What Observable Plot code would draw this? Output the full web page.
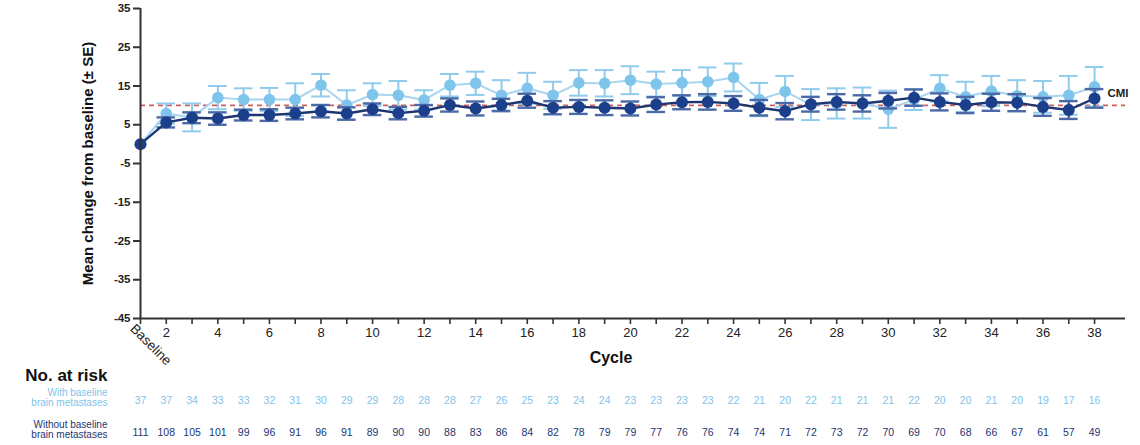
<!DOCTYPE html>
<html>
<head>
<meta charset="utf-8">
<script src="https://cdn.jsdelivr.net/npm/d3@7"></script>
<script src="https://cdn.jsdelivr.net/npm/@observablehq/plot@0.6"></script>
<style>
  html, body { margin: 0; padding: 0; background: white; overflow: hidden; }
  #chart svg { display: block; overflow: visible; }
</style>
</head>
<body>
<div id="chart"></div>
<script>
// ---- data ----
const cycles = [1,2,3,4,5,6,7,8,9,10,11,12,13,14,15,16,17,18,19,20,21,22,23,24,25,26,27,28,29,30,31,32,33,34,35,36,37,38];
const evenTickLabels = [2,4,6,8,10,12,14,16,18,20,22,24,26,28,30,32,34,36,38];
const baselineLabel = "Baseline";
const yTicks = [-45,-35,-25,-15,-5,5,15,25,35];
const cmiValue = 10;

const withMean = [0,7.9,6.9,12.0,11.5,11.5,11.5,15.2,10.1,12.8,12.6,11.4,15.2,15.7,12.6,14.4,12.6,15.8,15.7,16.5,15.5,15.8,16.1,17.2,11.5,13.6,10.2,10.5,10.6,9.0,11.5,14.4,12.2,13.7,12.5,12.2,12.6,14.8];
const withSE   = [0,2.6,3.6,3.0,2.9,3.0,4.2,2.9,3.8,2.9,3.7,2.5,2.9,3.0,3.9,4.0,3.5,3.3,3.4,3.6,3.2,3.3,3.7,3.6,4.3,4.0,4.0,3.9,4.0,4.8,2.7,3.4,3.9,3.9,4.0,4.1,5.0,5.1];
const withoutMean = [0,5.6,6.8,6.6,7.5,7.5,7.9,8.5,7.9,9.0,8.0,8.6,10.1,9.2,10.1,11.2,9.4,9.6,9.4,9.2,10.2,10.8,10.9,10.5,9.4,8.5,10.3,10.9,10.5,11.2,12.0,10.9,10.1,10.8,10.7,9.6,8.8,11.8];
const withoutSE   = [0,1.3,1.4,1.6,1.4,1.5,1.5,1.6,1.6,1.5,1.6,1.5,1.7,1.8,1.6,1.8,1.7,1.8,1.9,1.8,1.9,1.8,2.0,1.9,2.0,2.1,1.9,2.0,2.1,2.0,2.1,2.2,2.1,2.2,2.2,2.3,2.3,2.4];

const withAtRisk    = [37,37,34,33,33,32,31,30,29,29,28,28,28,27,26,25,23,24,24,23,23,23,23,22,21,20,22,21,21,21,22,20,20,21,20,19,17,16];
const withoutAtRisk = [111,108,105,101,99,96,91,96,91,89,90,90,88,83,86,84,82,78,79,79,77,76,76,74,74,71,72,73,72,70,69,70,68,66,67,61,57,49];

const groupKeys = ["with", "without"];
const groupLabels = ["With baseline\nbrain metastases", "Without baseline\nbrain metastases"];
const atRiskTitle = "No. at risk";
const yLabel = "Mean change from baseline (± SE)";
const xLabel = "Cycle";
const cmiLabel = "CMI";

// ---- styling ----
const LIGHT = "#7fc4ea";
const LIGHT_LINE = "#a6d5f0";
const LIGHT_BAR = "#8fcbec";
const DARK = "#1b3f8b";
const DARK_LINE = "#1d3672";
const DARK_BAR = "#4a69a6";
const FONT = "'Liberation Sans', Arial, sans-serif";

// ---- tables ----
const withRows = cycles.map((c, i) => ({cycle: c, mean: withMean[i], se: withSE[i]}));
const withoutRows = cycles.map((c, i) => ({cycle: c, mean: withoutMean[i], se: withoutSE[i]}));
const withBars = withRows.filter(d => d.se > 0);
const withoutBars = withoutRows.filter(d => d.se > 0);
const capHalf = 0.36;
const atRisk = [
  ...cycles.map((c, i) => ({cycle: c, group: "with", n: withAtRisk[i]})),
  ...cycles.map((c, i) => ({cycle: c, group: "without", n: withoutAtRisk[i]}))
];
const labelRows = groupKeys.map((k, i) => ({group: k, label: groupLabels[i]}));

const xDomain = [1, 39.2];

function errorMarks(rows, color, width) {
  return [
    Plot.ruleX(rows, {x: "cycle", y1: d => d.mean - d.se, y2: d => d.mean + d.se, stroke: color, strokeWidth: width}),
    Plot.ruleY(rows, {y: d => d.mean + d.se, x1: d => d.cycle - capHalf, x2: d => d.cycle + capHalf, stroke: color, strokeWidth: width}),
    Plot.ruleY(rows, {y: d => d.mean - d.se, x1: d => d.cycle - capHalf, x2: d => d.cycle + capHalf, stroke: color, strokeWidth: width})
  ];
}

const main = Plot.plot({
  width: 1140,
  height: 365,
  marginLeft: 140,
  marginRight: 15,
  marginTop: 8,
  marginBottom: 47,
  style: {fontFamily: FONT, fontSize: "11.5px", color: "#1a1a1a", overflow: "visible", background: "transparent"},
  x: {domain: xDomain},
  y: {domain: [-45, 35]},
  marks: [
    Plot.ruleY([cmiValue], {stroke: "#c9605c", strokeWidth: 1.6, strokeDasharray: "5,4"}),
    ...errorMarks(withBars, LIGHT_BAR, 2),
    Plot.line(withRows, {x: "cycle", y: "mean", stroke: LIGHT_LINE, strokeWidth: 2}),
    Plot.dot(withRows, {x: "cycle", y: "mean", r: 5.8, fill: LIGHT, stroke: "none"}),
    ...errorMarks(withoutBars, DARK_BAR, 2.4),
    Plot.line(withoutRows, {x: "cycle", y: "mean", stroke: DARK_LINE, strokeWidth: 2.4}),
    Plot.dot(withoutRows, {x: "cycle", y: "mean", r: 6, fill: DARK, stroke: "none"}),
    Plot.text([cmiLabel], {y: [cmiValue], frameAnchor: "right", textAnchor: "end", dx: 3, dy: -12, fontSize: 11.5, fontWeight: "bold", fill: "#222"}),
    // axes
    Plot.ruleX([xDomain[0]], {stroke: "#333", strokeWidth: 2}),
    Plot.ruleY([-45], {stroke: "#333", strokeWidth: 2}),
    Plot.axisY({ticks: yTicks, tickSize: 7, tickPadding: 3, label: null, stroke: "#333", strokeWidth: 2,
      tickFormat: d => String(d), fontSize: 11.5, fontWeight: "bold", fill: "#222"}),
    Plot.axisX({ticks: cycles, tickSize: 6, tickPadding: 3, label: null, stroke: "#333", strokeWidth: 1.6,
      tickFormat: d => evenTickLabels.includes(d) ? String(d) : "", fontSize: 13, fill: "#222"}),
    Plot.text([baselineLabel], {x: [cycles[0]], frameAnchor: "bottom", rotate: 45, textAnchor: "start", dx: -11, dy: 11, fontSize: 13.5, fill: "#222"}),
    Plot.text([yLabel], {frameAnchor: "left", textAnchor: "middle", rotate: -90, dx: -52, fontSize: 15, fontWeight: "bold", fill: "#111"}),
    Plot.text([xLabel], {frameAnchor: "bottom", textAnchor: "middle", dx: -22, dy: 44, fontSize: 16, fontWeight: "bold", fill: "#111"})
  ]
});

const table = Plot.plot({
  width: 1140,
  height: 80,
  marginLeft: 140,
  marginRight: 15,
  marginTop: 0,
  marginBottom: 0,
  style: {fontFamily: FONT, fontSize: "10px", overflow: "visible", background: "transparent"},
  x: {domain: xDomain, axis: null},
  y: {type: "point", domain: groupKeys, range: [35, 67], padding: 0, axis: null},
  marks: [
    Plot.text(atRisk, {x: "cycle", y: "group", text: "n", fontSize: 10.5,
      fill: d => d.group === "with" ? LIGHT : DARK_LINE, fontWeight: d => d.group === "with" ? "normal" : "bold"}),
    Plot.text(labelRows, {y: "group", text: "label", frameAnchor: "left", textAnchor: "end", dx: -33, dy: -3, lineHeight: 1.05, fontSize: 10,
      fill: d => d.group === "with" ? LIGHT : DARK_LINE, fontWeight: d => d.group === "with" ? "normal" : "bold"}),
    Plot.text([atRiskTitle], {frameAnchor: "top-left", textAnchor: "end", dx: -33, dy: 3, fontSize: 17, fontWeight: "bold", fill: "#111"})
  ]
});

const chart = document.getElementById("chart");
chart.appendChild(main);
chart.appendChild(table);
</script>
</body>
</html>
